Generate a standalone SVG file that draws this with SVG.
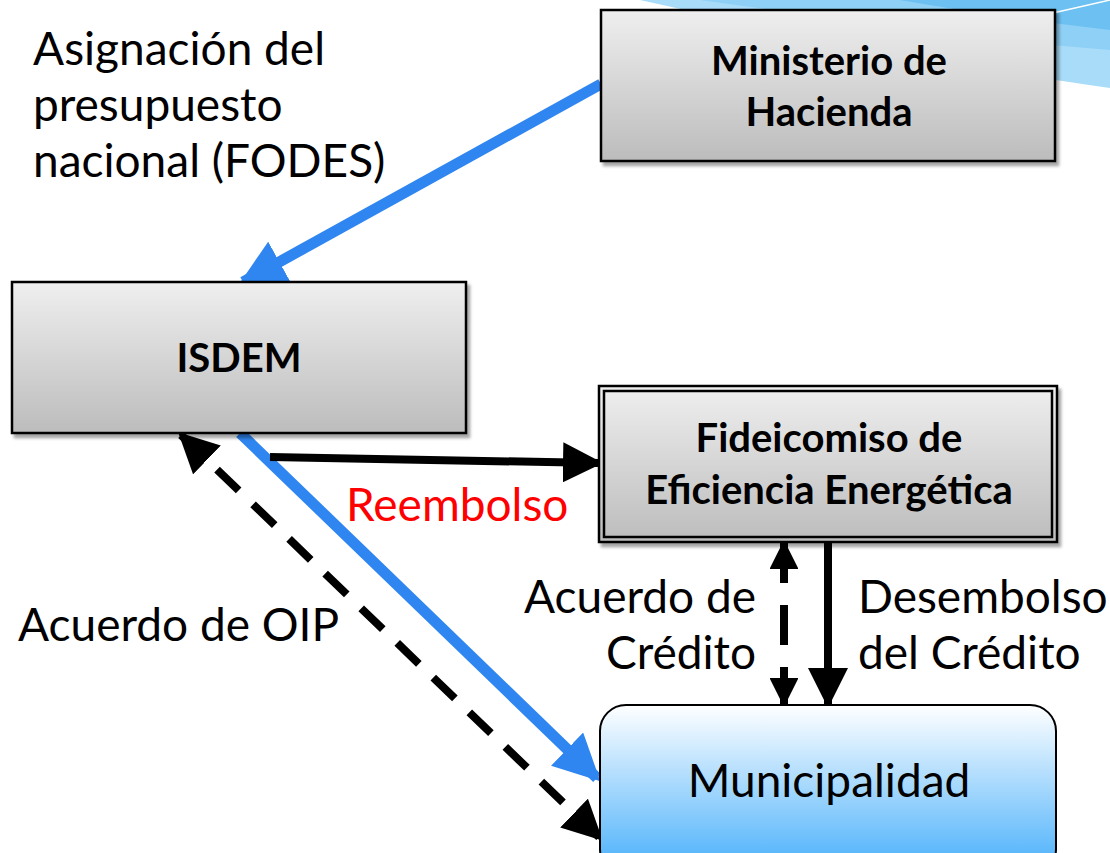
<svg xmlns="http://www.w3.org/2000/svg" width="1110" height="853" viewBox="0 0 1110 853">
<defs>
<linearGradient id="gray" x1="0" y1="0" x2="0" y2="1">
<stop offset="0" stop-color="#efefef"/>
<stop offset="1" stop-color="#bcbcbc"/>
</linearGradient>
<linearGradient id="blue" x1="0" y1="0" x2="0" y2="1">
<stop offset="0" stop-color="#ffffff"/>
<stop offset="1" stop-color="#45aefb"/>
</linearGradient>
<marker id="bhead" viewBox="0 0 10 10" refX="9" refY="5" markerWidth="4.2" markerHeight="4.2" orient="auto-start-reverse" markerUnits="strokeWidth">
<path d="M0,0 L10,5 L0,10 Z" fill="#2f86f0"/>
</marker>
<marker id="khead" viewBox="0 0 10 10" refX="9" refY="5" markerWidth="5" markerHeight="5" orient="auto-start-reverse" markerUnits="strokeWidth">
<path d="M0,0 L10,5 L0,10 Z" fill="#000"/>
</marker>
<marker id="ksmall" viewBox="0 0 10 10" refX="9" refY="5" markerWidth="3.6" markerHeight="3.6" orient="auto-start-reverse" markerUnits="strokeWidth">
<path d="M0,0 L10,5 L0,10 Z" fill="#000"/>
</marker>
<filter id="sh" x="-5%" y="-5%" width="110%" height="115%">
<feDropShadow dx="3" dy="4" stdDeviation="1.5" flood-color="#000" flood-opacity="0.35"/>
</filter>
</defs>
<style>
.box{fill:url(#gray);stroke:#000;stroke-width:2.5}
.bt{font-family:Lato,"Open Sans",sans-serif;font-weight:bold;font-size:40px;fill:#000;text-anchor:middle}
.lbl{font-family:Lato,"Open Sans",sans-serif;font-size:46px;fill:#000}
.blue{stroke:#2f86f0;stroke-width:11;fill:none}
.blk{stroke:#000;stroke-width:8;fill:none}
</style>
<rect width="1110" height="853" fill="#fff"/>
<g id="background">
<path d="M640,0 L1110,0 L1110,88 C980,70 820,40 640,0 Z" fill="#a9dcf9"/>
<path d="M700,0 L1110,0 L1110,50 C980,40 860,22 700,0 Z" fill="#8fd0f6"/>
<path d="M900,0 L1110,0 L1110,30 C1040,22 970,12 900,0 Z" fill="#6cc0f2"/>
<path d="M1040,16 L1110,0" stroke="#fff" stroke-width="1.5"/>
</g>
<g id="connectors">
<line class="blue" x1="601" y1="84" x2="243" y2="282" marker-end="url(#bhead)"/>
<line class="blue" x1="240" y1="433" x2="597" y2="778" marker-end="url(#bhead)"/>
<line class="blk" x1="270" y1="457" x2="599" y2="463" marker-end="url(#khead)"/>
<line class="blk" x1="181" y1="435" x2="600" y2="838" stroke-dasharray="30,20" marker-start="url(#khead)" marker-end="url(#khead)"/>
<line class="blk" x1="784" y1="543" x2="784" y2="704" stroke-dasharray="40,22" marker-start="url(#ksmall)" marker-end="url(#ksmall)"/>
<line class="blk" x1="828" y1="543" x2="828" y2="704" marker-end="url(#khead)"/>
</g>
<g id="ministerio">
<rect class="box" x="601" y="10" width="454" height="151" filter="url(#sh)"/>
<text class="bt" x="829" y="75">Ministerio de</text>
<text class="bt" x="829" y="126">Hacienda</text>
</g>
<g id="isdem">
<rect class="box" x="12" y="282" width="454" height="151" filter="url(#sh)"/>
<text class="bt" x="239" y="372">ISDEM</text>
</g>
<g id="fideicomiso">
<rect class="box" x="599" y="386" width="458" height="156" filter="url(#sh)"/>
<rect x="604" y="391" width="448" height="146" fill="none" stroke="#000" stroke-width="2.5"/>
<text class="bt" x="829" y="452">Fideicomiso de</text>
<text class="bt" x="829" y="504">Eficiencia Energética</text>
</g>
<g id="municipalidad">
<rect x="600" y="705" width="456" height="170" rx="26" fill="url(#blue)" stroke="#000" stroke-width="2"/>
<text class="lbl" x="829" y="797" text-anchor="middle">Municipalidad</text>
</g>
<g id="labels">
<text class="lbl" x="33" y="65">Asignación del</text>
<text class="lbl" x="33" y="121">presupuesto</text>
<text class="lbl" x="33" y="177">nacional (FODES)</text>
<text class="lbl" x="346" y="521" style="fill:#ff0000">Reembolso</text>
<text class="lbl" x="18" y="641">Acuerdo de OIP</text>
<text class="lbl" x="756" y="613" text-anchor="end">Acuerdo de</text>
<text class="lbl" x="756" y="669" text-anchor="end">Crédito</text>
<text class="lbl" x="858" y="613">Desembolso</text>
<text class="lbl" x="858" y="669">del Crédito</text>
</g>
</svg>
